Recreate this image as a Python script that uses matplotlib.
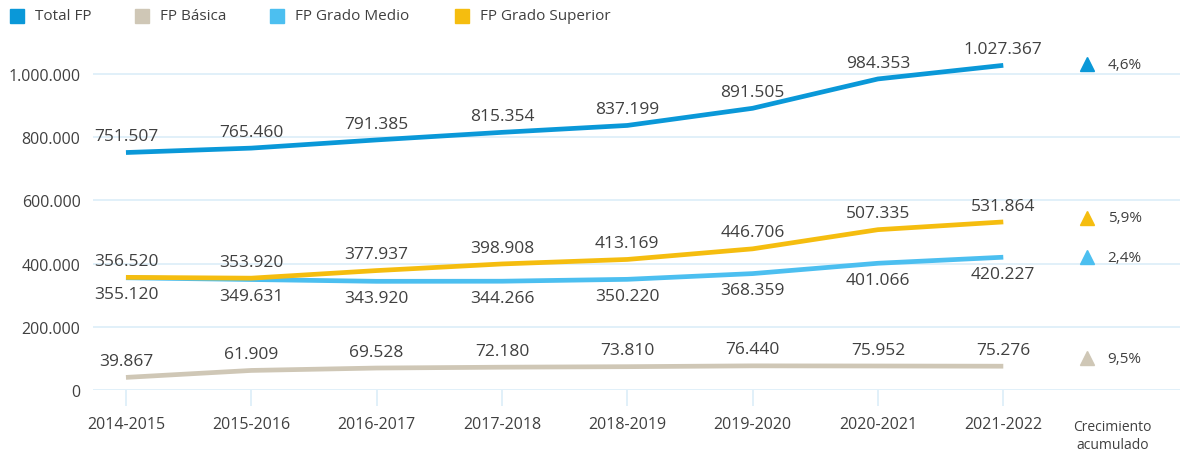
import matplotlib
matplotlib.use("Agg")
import matplotlib.pyplot as plt
from matplotlib.patches import Rectangle
from matplotlib.transforms import offset_copy

plt.rcParams['font.family'] = ['Open Sans', 'DejaVu Sans']

years = ["2014-2015", "2015-2016", "2016-2017", "2017-2018",
         "2018-2019", "2019-2020", "2020-2021", "2021-2022"]
total_fp = [751507, 765460, 791385, 815354, 837199, 891505, 984353, 1027367]
fp_basica = [39867, 61909, 69528, 72180, 73810, 76440, 75952, 75276]
fp_medio = [355120, 349631, 343920, 344266, 350220, 368359, 401066, 420227]
fp_superior = [356520, 353920, 377937, 398908, 413169, 446706, 507335, 531864]
growth = ["4,6%", "9,5%", "2,4%", "5,9%"]
series_names = ["Total FP", "FP Básica", "FP Grado Medio", "FP Grado Superior"]
growth_label = "Crecimiento\nacumulado"
y_ticks = [0, 200000, 400000, 600000, 800000, 1000000]

colors = ["#0a98d8", "#cfc7b6", "#4cbff0", "#f5bd0f"]
label_side = [1, 1, -1, 1]          # label above (+1) or below (-1) the line
tri_offset_px = [1, 8, 0, 4]        # small vertical nudges of the growth markers
text_color = "#404040"
grid_color = "#dcedf8"

def fmt(v):
    return f"{v:,}".replace(",", ".")

W, H = 1180, 460
fig = plt.figure(figsize=(W / 100, H / 100), dpi=100)
ax = fig.add_axes([93 / W, 69 / H, 1 - 93 / W, (391 - 43.4) / H])
ax.set_xlim(-0.263, 8.41)
ax.set_ylim(0, 1100000)

for s in ax.spines.values():
    s.set_visible(False)

ax.set_yticks(y_ticks)
ax.set_yticklabels([fmt(v) for v in y_ticks])
ax.yaxis.grid(True, color=grid_color, linewidth=1.2)
ax.set_axisbelow(True)
ax.tick_params(axis='y', length=0, pad=9, labelsize=11.5, labelcolor=text_color)

xs = list(range(len(years)))
ax.set_xticks(xs)
ax.set_xticklabels(years)
ax.tick_params(axis='x', length=11.5, width=1.2, color=grid_color, pad=7,
               labelsize=11.5, labelcolor=text_color)

all_series = [total_fp, fp_basica, fp_medio, fp_superior]
draw_order = [1, 2, 3, 0]
for k in draw_order:
    vals = all_series[k]
    ax.plot(xs, vals, color=colors[k], linewidth=3.4, solid_capstyle='butt',
            zorder=3 + k)
    for i, v in enumerate(vals):
        ax.annotate(fmt(v), (i, v), xytext=(0, 11.8 * label_side[k]),
                    textcoords='offset points', ha='center', va='center',
                    fontsize=12.5, color=text_color, annotation_clip=False)

# growth markers
tri_x = 7.667
for k in range(4):
    last = all_series[k][-1]
    tr = offset_copy(ax.transData, fig=fig, x=0, y=tri_offset_px[k], units='dots')
    ax.plot([tri_x], [last], marker='^', markersize=10, color=colors[k],
            linestyle='none', transform=tr, clip_on=False, zorder=10)
    ax.annotate(growth[k], (tri_x, last), xytext=(15, tri_offset_px[k] * 0.72),
                textcoords='offset points', ha='left', va='center',
                fontsize=11, color=text_color, annotation_clip=False)

ax.annotate(growth_label, (7.87, 0), xycoords=('data', 'axes fraction'),
            xytext=(0, -32.5), textcoords='offset points', ha='center',
            va='center', fontsize=10, color=text_color, linespacing=1.25,
            annotation_clip=False)

# legend
leg_x = [10, 135, 270, 455]
for k in range(4):
    x0 = leg_x[k]
    fig.patches.append(Rectangle((x0 / W, 1 - 24 / H), 14 / W, 14 / H,
                                 transform=fig.transFigure, color=colors[k]))
    fig.text((x0 + 25) / W, 1 - 17 / H, series_names[k], ha='left', va='center',
             fontsize=11, color=text_color)

fig.savefig("out.png", dpi=100)
